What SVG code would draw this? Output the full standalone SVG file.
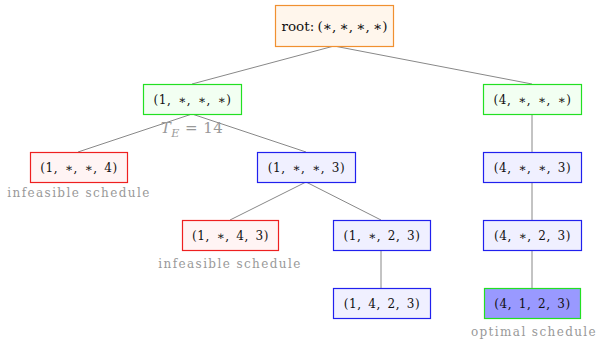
<svg xmlns="http://www.w3.org/2000/svg" width="598" height="347" viewBox="0 0 598 347">
<style>
.n rect{stroke-width:1.2}
.g rect{fill:#f2fff2;stroke:#22e022}
.r rect{fill:#fff4f4;stroke:#ee2020}
.b rect{fill:#f0f0ff;stroke:#2020ee}
.n text{font-family:"DejaVu Serif","Liberation Serif",serif;font-size:12px;word-spacing:2.5px;letter-spacing:0.5px;fill:#111;text-anchor:middle}
.lbl{font-family:"DejaVu Serif","Liberation Serif",serif;font-size:12px;letter-spacing:1.4px;fill:#999;text-anchor:middle}
#edges line{stroke:#888;stroke-width:1}
</style>
<rect width="598" height="347" fill="#fff"/>
<g id="edges">
<line x1="334" y1="46" x2="192" y2="84"/>
<line x1="334" y1="46" x2="532" y2="84"/>
<line x1="192" y1="114" x2="78" y2="152"/>
<line x1="192" y1="114" x2="306" y2="152"/>
<line x1="306" y1="182" x2="230" y2="220"/>
<line x1="306" y1="182" x2="381" y2="220"/>
<line x1="381" y1="250" x2="381" y2="288" stroke="#aaa"/>
<line x1="532" y1="114" x2="532" y2="152" stroke="#aaa"/>
<line x1="532" y1="182" x2="532" y2="220" stroke="#aaa"/>
<line x1="532" y1="250" x2="532" y2="288" stroke="#aaa"/>
</g>
<g id="root" class="n"><rect x="275.5" y="5.5" width="118" height="41" fill="#fff6ec" stroke="#f09030"/><text x="334.5" y="31" style="font-size:13.5px;word-spacing:-1px;letter-spacing:0">root: (∗, ∗, ∗, ∗)</text></g>
<g id="n1" class="n g"><rect x="143.5" y="84.5" width="98" height="30"/><text x="192.5" y="103.5">(1, ∗, ∗, ∗)</text></g>
<text class="lbl" x="192" y="133" style="font-size:15px;letter-spacing:0.5px"><tspan font-style="italic">T</tspan><tspan font-style="italic" font-size="11" dy="4">E</tspan><tspan dy="-4"> = 14</tspan></text>
<g id="n4" class="n g"><rect x="483.5" y="84.5" width="98" height="30"/><text x="532.5" y="103.5">(4, ∗, ∗, ∗)</text></g>
<g id="n14" class="n r"><rect x="30.5" y="152.5" width="97" height="30"/><text x="79" y="171.5">(1, ∗, ∗, 4)</text></g>
<text class="lbl" x="79" y="197">infeasible schedule</text>
<g id="n13" class="n b"><rect x="257.5" y="152.5" width="98" height="30"/><text x="306.5" y="171.5">(1, ∗, ∗, 3)</text></g>
<g id="n43" class="n b"><rect x="483.5" y="152.5" width="98" height="30"/><text x="532.5" y="171.5">(4, ∗, ∗, 3)</text></g>
<g id="n143" class="n r"><rect x="182.5" y="220.5" width="96" height="30"/><text x="230.5" y="239.5">(1, ∗, 4, 3)</text></g>
<text class="lbl" x="230" y="268">infeasible schedule</text>
<g id="n123" class="n b"><rect x="333.5" y="220.5" width="97" height="30"/><text x="382" y="239.5">(1, ∗, 2, 3)</text></g>
<g id="n423" class="n b"><rect x="483.5" y="220.5" width="98" height="30"/><text x="532.5" y="239.5">(4, ∗, 2, 3)</text></g>
<g id="n1423" class="n b"><rect x="333.5" y="288.5" width="97" height="30"/><text x="382" y="307.5">(1, 4, 2, 3)</text></g>
<g id="n4123" class="n"><rect x="484.5" y="288.5" width="96" height="30" fill="#9999ff" stroke="#22e022"/><text x="532.5" y="307.5">(4, 1, 2, 3)</text></g>
<text class="lbl" x="534" y="336">optimal schedule</text>
</svg>
